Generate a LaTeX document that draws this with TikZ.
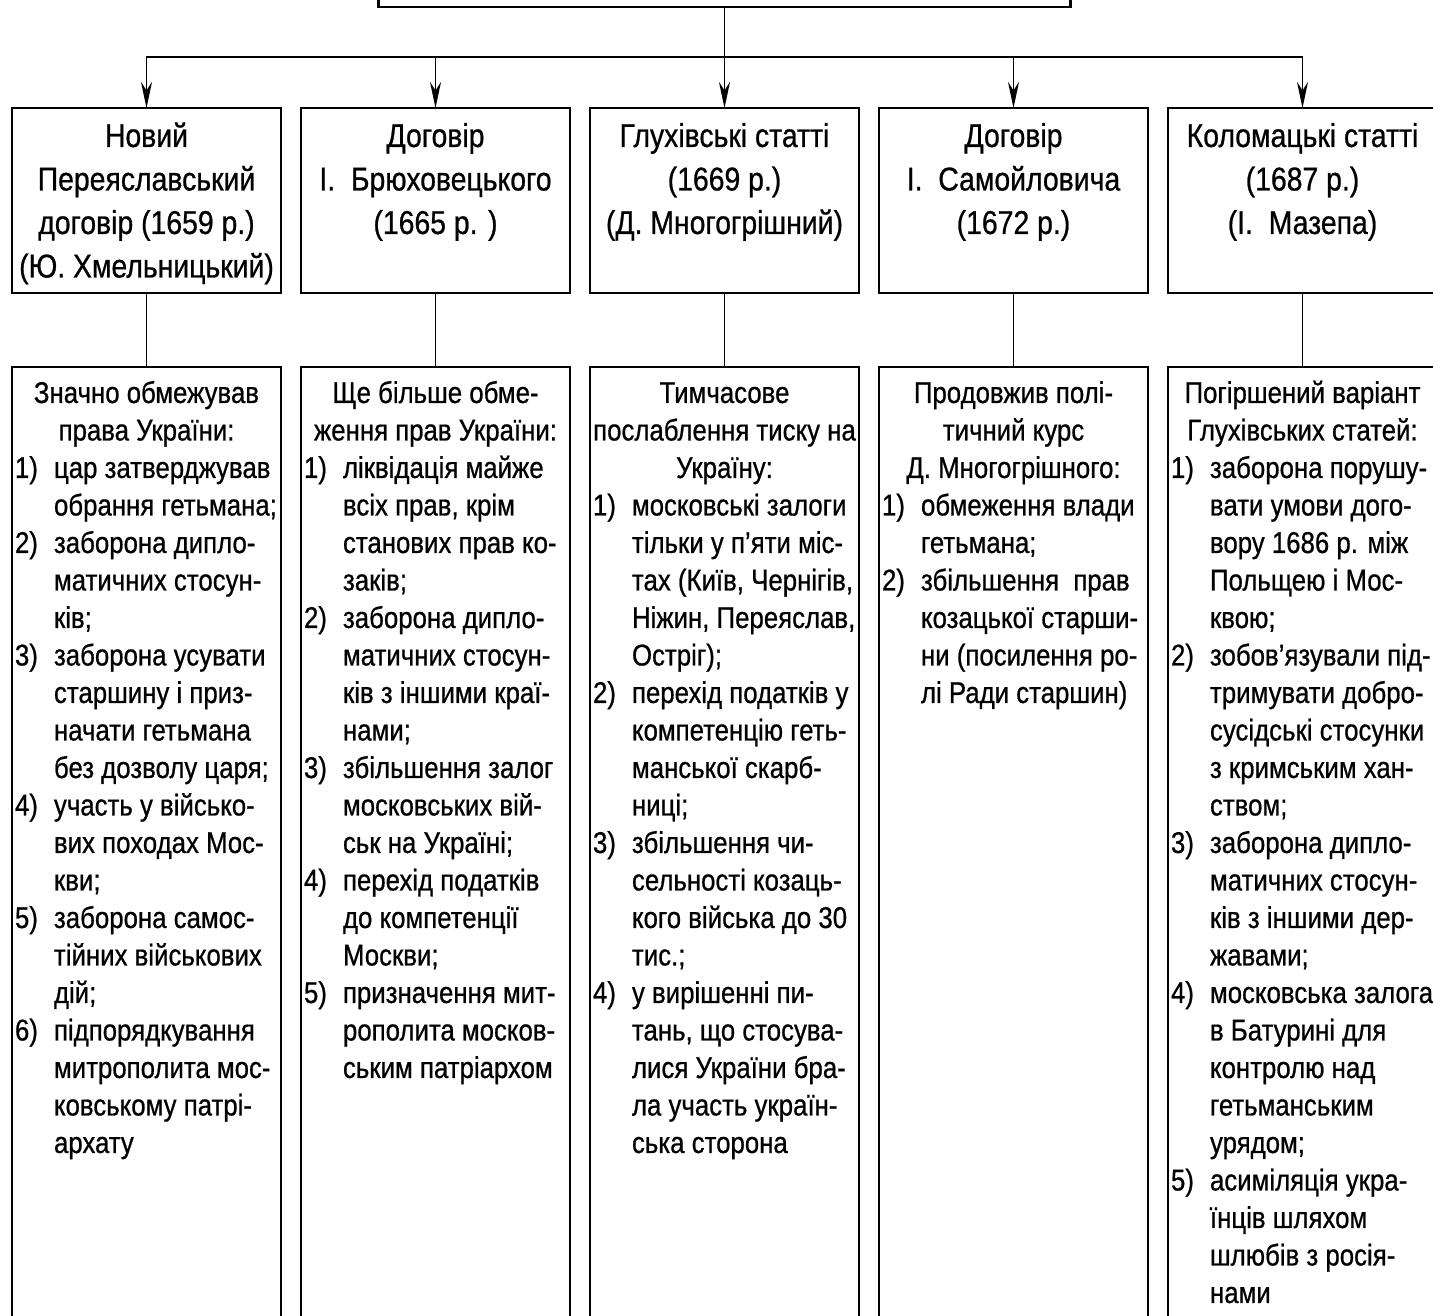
\documentclass[tikz,border=0pt]{standalone}
\usepackage{fontspec}
\setmainfont{Liberation Sans}[FakeStretch=0.86,FakeBold=0.7]
\usetikzlibrary{arrows.meta,positioning}

\newlength\colw \setlength\colw{263pt}
\newlength\numw \setlength\numw{39pt}
\newcommand{\hdl}[1]{\makebox[\colw][c]{#1}}
\newcommand{\itm}[2]{\makebox[\colw][l]{\makebox[\numw][l]{#1)}#2}}
\newcommand{\cnt}[1]{\makebox[\colw][l]{\hspace*{\numw}#1}}
\newcommand{\headbox}[1]{\parbox[t][185pt][t]{269pt}{\centering\rule{0pt}{39pt}#1}}
\newcommand{\resbox}[1]{\parbox[t][1000pt][t]{269pt}{\centering\rule{0pt}{36pt}#1}}

\begin{document}
\begin{tikzpicture}[x=1pt, y=1pt, >={Stealth[length=26pt,width=11pt]},
  topbox/.style={draw, line width=2.8pt, outer sep=0pt, minimum width=692pt,
                 minimum height=120pt, anchor=south},
  treaty/.style={draw, line width=2.8pt, inner sep=0pt, outer sep=0pt, anchor=north,
                 font=\fontsize{33pt}{43.5pt}\selectfont},
  result/.style={draw, line width=2.8pt, inner sep=0pt, outer sep=0pt, anchor=north,
                 font=\fontsize{30pt}{37.5pt}\selectfont},
  link/.style={line width=1.9pt}]
\path[use as bounding box, fill=white] (0,0) rectangle (1433,1316);
\clip (0,0) rectangle (1433,1316);
% treaties
\node[treaty] (b1) at (146.5,1208) {\headbox{Новий\\Переяславський\\договір (1659 р.)\\(Ю. Хмельницький)}};
\node[treaty, right=20pt of b1] (b2) {\headbox{Договір\\І.\ \ Брюховецького\\(1665 р. )}};
\node[treaty, right=20pt of b2] (b3) {\headbox{Глухівські статті\\(1669 р.)\\(Д. Многогрішний)}};
\node[treaty, right=20pt of b3] (b4) {\headbox{Договір\\І.\ \ Самойловича\\(1672 р.)}};
\node[treaty, right=20pt of b4] (b5) {\headbox{Коломацькі статті\\(1687 р.)\\(І.\ \ Мазепа)}};
% top box, cut by the page edge
\node[topbox, above=101pt of b3] (top) {};
\coordinate[above=51pt of b3] (hub);
% consequences
\node[result, below=74pt of b1] (r1) {\resbox{\hdl{Значно обмежував}\\\hdl{права України:}\\
  \itm{1}{цар затверджував}\\\cnt{обрання гетьмана;}\\
  \itm{2}{заборона дипло-}\\\cnt{матичних стосун-}\\\cnt{ків;}\\
  \itm{3}{заборона усувати}\\\cnt{старшину і приз-}\\\cnt{начати гетьмана}\\\cnt{без дозволу царя;}\\
  \itm{4}{участь у військо-}\\\cnt{вих походах Мос-}\\\cnt{кви;}\\
  \itm{5}{заборона самос-}\\\cnt{тійних військових}\\\cnt{дій;}\\
  \itm{6}{підпорядкування}\\\cnt{митрополита мос-}\\\cnt{ковському патрі-}\\\cnt{архату}}};
\node[result, below=74pt of b2] (r2) {\resbox{\hdl{Ще більше обме-}\\\hdl{ження прав України:}\\
  \itm{1}{ліквідація майже}\\\cnt{всіх прав, крім}\\\cnt{станових прав ко-}\\\cnt{заків;}\\
  \itm{2}{заборона дипло-}\\\cnt{матичних стосун-}\\\cnt{ків з іншими краї-}\\\cnt{нами;}\\
  \itm{3}{збільшення залог}\\\cnt{московських вій-}\\\cnt{ськ на Україні;}\\
  \itm{4}{перехід податків}\\\cnt{до компетенції}\\\cnt{Москви;}\\
  \itm{5}{призначення мит-}\\\cnt{рополита москов-}\\\cnt{ським патріархом}}};
\node[result, below=74pt of b3] (r3) {\resbox{\hdl{Тимчасове}\\\hdl{послаблення тиску на}\\\hdl{Україну:}\\
  \itm{1}{московські залоги}\\\cnt{тільки у п’яти міс-}\\\cnt{тах (Київ, Чернігів,}\\\cnt{Ніжин, Переяслав,}\\\cnt{Остріг);}\\
  \itm{2}{перехід податків у}\\\cnt{компетенцію геть-}\\\cnt{манської скарб-}\\\cnt{ниці;}\\
  \itm{3}{збільшення чи-}\\\cnt{сельності козаць-}\\\cnt{кого війська до 30}\\\cnt{тис.;}\\
  \itm{4}{у вирішенні пи-}\\\cnt{тань, що стосува-}\\\cnt{лися України бра-}\\\cnt{ла участь україн-}\\\cnt{ська сторона}}};
\node[result, below=74pt of b4] (r4) {\resbox{\hdl{Продовжив полі-}\\\hdl{тичний курс}\\\hdl{Д. Многогрішного:}\\
  \itm{1}{обмеження влади}\\\cnt{гетьмана;}\\
  \itm{2}{збільшення\ \ прав}\\\cnt{козацької старши-}\\\cnt{ни (посилення ро-}\\\cnt{лі Ради старшин)}}};
\node[result, below=74pt of b5] (r5) {\resbox{\hdl{Погіршений варіант}\\\hdl{Глухівських статей:}\\
  \itm{1}{заборона порушу-}\\\cnt{вати умови дого-}\\\cnt{вору 1686 р. між}\\\cnt{Польщею і Мос-}\\\cnt{квою;}\\
  \itm{2}{зобов’язували під-}\\\cnt{тримувати добро-}\\\cnt{сусідські стосунки}\\\cnt{з кримським хан-}\\\cnt{ством;}\\
  \itm{3}{заборона дипло-}\\\cnt{матичних стосун-}\\\cnt{ків з іншими дер-}\\\cnt{жавами;}\\
  \itm{4}{московська залога}\\\cnt{в Батурині для}\\\cnt{контролю над}\\\cnt{гетьманським}\\\cnt{урядом;}\\
  \itm{5}{асиміляція укра-}\\\cnt{їнців шляхом}\\\cnt{шлюбів з росія-}\\\cnt{нами}}};
% connectors
\draw[link] (top.south) -- (hub);
\foreach \b in {b1,b2,b3,b4,b5}
  \draw[link,->] (hub) -| (\b.north);
\foreach \i in {1,...,5}
  \draw[link] (b\i.south) -- (r\i.north);
\end{tikzpicture}
\end{document}
